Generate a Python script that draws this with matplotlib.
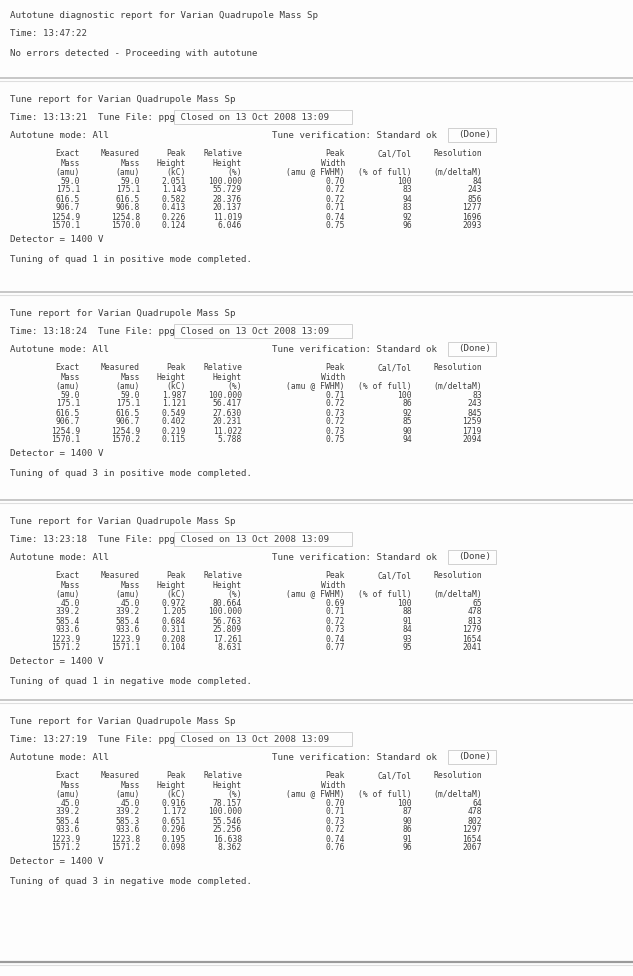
import matplotlib
matplotlib.use("Agg")
import matplotlib.pyplot as plt
from matplotlib.patches import Rectangle

# Tune report page (scanned print-out), recreated as text on a blank axes

W, H = 633, 976
INK = "#3f3f3f"
FONT = "DejaVu Sans Mono"

header_lines = [
    "Autotune diagnostic report for Varian Quadrupole Mass Sp",
    "Time: 13:47:22",
    "No errors detected - Proceeding with autotune",
]

section_times = ["13:13:21", "13:18:24", "13:23:18", "13:27:19"]
section_modes = ["positive", "positive", "negative", "negative"]
section_quads = [1, 3, 1, 3]
detector_volts = [1400, 1400, 1400, 1400]

col_head1 = ["Exact", "Measured", "Peak", "Relative", "Peak", "Cal/Tol", "Resolution"]
col_head2 = ["Mass", "Mass", "Height", "Height", "Width", "", ""]
col_units = ["(amu)", "(amu)", "(kC)", "(%)", "(amu @ FWHM)", "(% of full)", "(m/deltaM)"]

exact_mass = [
    [59.0, 175.1, 616.5, 906.7, 1254.9, 1570.1],
    [59.0, 175.1, 616.5, 906.7, 1254.9, 1570.1],
    [45.0, 339.2, 585.4, 933.6, 1223.9, 1571.2],
    [45.0, 339.2, 585.4, 933.6, 1223.9, 1571.2],
]
measured_mass = [
    [59.0, 175.1, 616.5, 906.8, 1254.8, 1570.0],
    [59.0, 175.1, 616.5, 906.7, 1254.9, 1570.2],
    [45.0, 339.2, 585.4, 933.6, 1223.9, 1571.1],
    [45.0, 339.2, 585.3, 933.6, 1223.8, 1571.2],
]
peak_height = [
    [2.051, 1.143, 0.582, 0.413, 0.226, 0.124],
    [1.987, 1.121, 0.549, 0.402, 0.219, 0.115],
    [0.972, 1.205, 0.684, 0.311, 0.208, 0.104],
    [0.916, 1.172, 0.651, 0.296, 0.195, 0.098],
]
relative_height = [
    [100.000, 55.729, 28.376, 20.137, 11.019, 6.046],
    [100.000, 56.417, 27.630, 20.231, 11.022, 5.788],
    [80.664, 100.000, 56.763, 25.809, 17.261, 8.631],
    [78.157, 100.000, 55.546, 25.256, 16.638, 8.362],
]
peak_width = [
    [0.70, 0.72, 0.72, 0.71, 0.74, 0.75],
    [0.71, 0.72, 0.73, 0.72, 0.73, 0.75],
    [0.69, 0.71, 0.72, 0.73, 0.74, 0.77],
    [0.70, 0.71, 0.73, 0.72, 0.74, 0.76],
]
cal_tol = [
    [100, 83, 94, 83, 92, 96],
    [100, 86, 92, 85, 90, 94],
    [100, 88, 91, 84, 93, 95],
    [100, 87, 90, 86, 91, 96],
]
resolution = [
    [84, 243, 856, 1277, 1696, 2093],
    [83, 243, 845, 1259, 1719, 2094],
    [65, 478, 813, 1279, 1654, 2041],
    [64, 478, 802, 1297, 1654, 2067],
]

fig = plt.figure(figsize=(W / 100, H / 100), dpi=100, facecolor="#fdfdfd")
ax = fig.add_axes([0, 0, 1, 1])
ax.set_xlim(0, W)
ax.set_ylim(H, 0)
ax.axis("off")


def line(x, y, s, size=6.6, ha="left", color=INK):
    ax.text(x, y, s, fontsize=size, family=FONT, color=color, ha=ha, va="center")


def separator(y, dark=False):
    c = "#9a9a9a" if dark else "#b8b8b8"
    ax.plot([0, W], [y, y], color=c, lw=1.6 if dark else 1.1, solid_capstyle="butt")
    ax.plot([0, W], [y + 3, y + 3], color="#dedede", lw=0.8)


def box(x0, y0, x1, y1):
    ax.add_patch(Rectangle((x0, y0), x1 - x0, y1 - y0, fill=False,
                           ec="#d0d0d0", lw=0.7))


# report header
for i, s in enumerate(header_lines):
    line(10, 15 + i * 19, s)
separator(78)

col_right = [80, 140, 186, 242, 345, 412, 482]
fmts = ["{:.1f}", "{:.1f}", "{:.3f}", "{:.3f}", "{:.2f}", "{:d}", "{:d}"]

section_top = [78, 292, 500, 700]
for k, top in enumerate(section_top):
    y = top
    line(10, y + 21, "Tune report for Varian Quadrupole Mass Sp")
    line(10, y + 39, "Time: %s  Tune File: ppg Closed on 13 Oct 2008 13:09"
         % section_times[k])
    box(174, y + 32, 352, y + 46)
    line(10, y + 57, "Autotune mode: All")
    line(272, y + 57, "Tune verification: Standard ok")
    line(458, y + 57, "(Done)")
    box(448, y + 50, 496, y + 64)

    ty = y + 76
    for c in range(7):
        line(col_right[c], ty, col_head1[c], size=5.8, ha="right")
        line(col_right[c], ty + 9, col_head2[c], size=5.8, ha="right")
        line(col_right[c], ty + 18, col_units[c], size=5.8, ha="right")
    cols = [exact_mass[k], measured_mass[k], peak_height[k], relative_height[k],
            peak_width[k], cal_tol[k], resolution[k]]
    for r in range(len(exact_mass[k])):
        for c in range(7):
            line(col_right[c], ty + 27 + r * 9, fmts[c].format(cols[c][r]),
                 size=5.8, ha="right")

    line(10, y + 162, "Detector = %d V" % detector_volts[k])
    line(10, y + 182, "Tuning of quad %d in %s mode completed." %
         (section_quads[k], section_modes[k]))
    if k < 3:
        separator(section_top[k + 1])

separator(962, dark=True)

fig.savefig("out.png", dpi=100, facecolor=fig.get_facecolor())
